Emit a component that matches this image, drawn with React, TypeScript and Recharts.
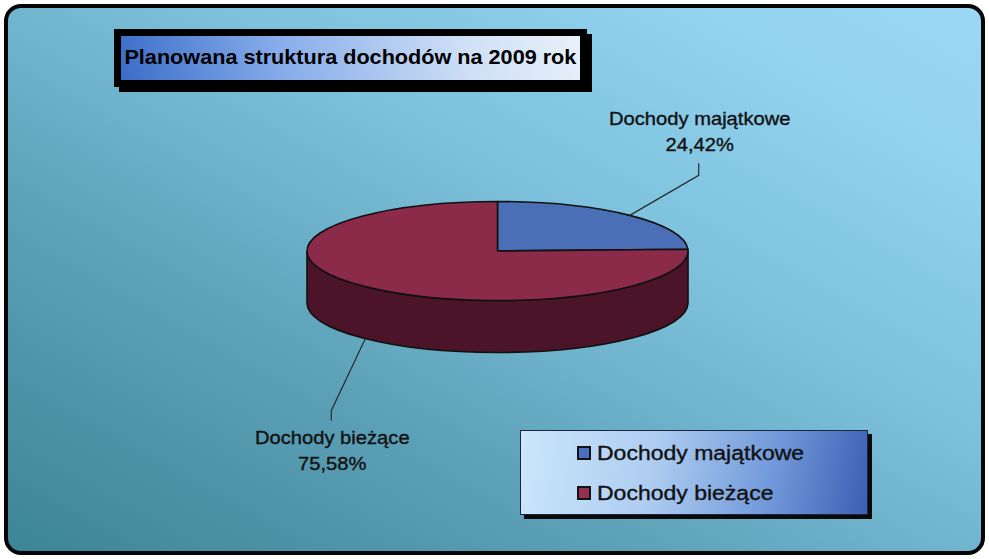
import { PieChart, Pie, Cell, Legend } from 'recharts';

const categories = ['Dochody majątkowe', 'Dochody bieżące'];
const shares = [24.42, 75.58];
const chartTitle = 'Planowana struktura dochodów na 2009 rok';

const TOP_COLORS = ['#4a6fb6', '#8c2a4a'];
const SIDE_COLORS = ['#263c6e', '#4c1428'];
const LEGEND_COLORS = ['#4a70c0', '#943050'];

const RX = 190.5;
const RY = 49.5;
const DEPTH = 52;
const RAD = Math.PI / 180;
const FONT = '"Liberation Sans", Arial, sans-serif';

const data = categories.map((name, i) => ({ name, value: shares[i] }));

const pt = (cx: number, cy: number, a: number, dy = 0) => [
  cx + RX * Math.cos(a * RAD),
  cy - RY * Math.sin(a * RAD) + dy,
];

function Slice3D(props: any) {
  const { cx, cy, startAngle, endAngle, index } = props;
  const hi = Math.max(startAngle, endAngle);
  const lo = Math.min(startAngle, endAngle);
  const [x1, y1] = pt(cx, cy, hi);
  const [x2, y2] = pt(cx, cy, lo);
  const large = hi - lo > 180 ? 1 : 0;
  const top = `M${cx},${cy} L${x1},${y1} A${RX},${RY} 0 ${large} 1 ${x2},${y2} Z`;

  // front half of the rim: angles in [k-180, k]
  const walls: string[] = [];
  for (const k of [360, 0, -360]) {
    const h = Math.min(hi, k);
    const l = Math.max(lo, k - 180);
    if (h - l > 0.01) {
      const [ax, ay] = pt(cx, cy, h);
      const [bx, by] = pt(cx, cy, l);
      walls.push(
        `M${ax},${ay} A${RX},${RY} 0 0 1 ${bx},${by} L${bx},${by + DEPTH} A${RX},${RY} 0 0 0 ${ax},${ay + DEPTH} Z`
      );
    }
  }

  return (
    <g>
      {walls.map((d, j) => (
        <path key={j} d={d} fill={SIDE_COLORS[index]} stroke="#111" strokeWidth={1.6} />
      ))}
      <path d={top} fill={TOP_COLORS[index]} stroke="#111" strokeWidth={1.6} strokeLinejoin="round" />
    </g>
  );
}

function renderLabel(props: any) {
  const { cx, cy, midAngle, name, value } = props;
  const upper = Math.sin(midAngle * RAD) >= 0;
  const [ax, ay] = pt(cx, cy, midAngle, upper ? 0 : DEPTH);
  const ex = ax + (upper ? 69 : -34);
  const ey = ay + (upper ? -40 : 72);
  const fy = ey + (upper ? -12 : 10);
  const line1 = upper ? fy - 38 : fy + 23;
  const line2 = line1 + 26;
  const pct = `${Number(value).toFixed(2).replace('.', ',')}%`;
  return (
    <g>
      <polyline
        points={`${ax},${ay} ${ex},${ey} ${ex},${fy}`}
        fill="none"
        stroke="#2a2a2a"
        strokeWidth={1.2}
      />
      <g
        transform={`translate(${ex + 1},0) scale(1.12,1)`}
        fontFamily={FONT}
        fontSize={18}
        fill="#111"
        stroke="#111"
        strokeWidth={0.35}
      >
        <text x={0} y={line1} textAnchor="middle">
          {name}
        </text>
        <text x={0} y={line2} textAnchor="middle">
          {pct}
        </text>
      </g>
    </g>
  );
}

function renderLegend(props: any) {
  const payload = [...(props.payload || [])].sort(
    (a: any, b: any) => categories.indexOf(a.value) - categories.indexOf(b.value)
  );
  return (
    <div
      style={{
        width: 348,
        height: 85,
        boxSizing: 'border-box',
        border: '1px solid #1c2440',
        background: 'linear-gradient(100deg, #cbe7fb 0%, #aecdf1 38%, #7199da 72%, #3c5fb3 100%)',
        boxShadow: '4px 4px 0 #0a0a0a',
        paddingTop: 2,
        paddingLeft: 56,
      }}
    >
      {payload.map((entry: any) => {
        const i = categories.indexOf(entry.value);
        return (
          <div key={entry.value} style={{ display: 'flex', alignItems: 'center', height: 40 }}>
            <span
              style={{
                width: 14,
                height: 14,
                boxSizing: 'border-box',
                border: '2px solid #111',
                background: LEGEND_COLORS[i],
                marginRight: 6,
                flex: 'none',
              }}
            />
            <span
              style={{
                fontFamily: FONT,
                fontSize: 20,
                color: '#111',
                WebkitTextStroke: '0.35px #111',
                display: 'inline-block',
                transform: 'scaleX(1.15)',
                transformOrigin: 'left center',
                whiteSpace: 'nowrap',
              }}
            >
              {entry.value}
            </span>
          </div>
        );
      })}
    </div>
  );
}

export default function App() {
  return (
    <div style={{ position: 'relative', width: 989, height: 559, background: '#fff', overflow: 'hidden' }}>
      <style>{'body{margin:0}'}</style>
      <div
        style={{
          position: 'absolute',
          left: 4,
          top: 4,
          width: 981,
          height: 551,
          boxSizing: 'border-box',
          border: '4px solid #050505',
          borderRadius: 17,
          background:
            'linear-gradient(to top right, #3c8595 0%, #5b9fb6 30%, #7cc0db 60%, #92d3f0 85%, #9ad8f5 100%)',
        }}
      />
      <div
        style={{
          position: 'absolute',
          left: 114,
          top: 29,
          width: 473,
          height: 58,
          boxSizing: 'border-box',
          border: '7px solid #000',
          boxShadow: '5px 5px 0 #000',
          background: 'linear-gradient(75deg, #3a6cc8 0%, #86acea 35%, #cfe0f6 75%, #e8f0fa 100%)',
          display: 'flex',
          alignItems: 'center',
          justifyContent: 'center',
        }}
      >
        <span
          style={{
            fontFamily: FONT,
            fontWeight: 'bold',
            fontSize: 21,
            color: '#000',
            display: 'inline-block',
            transform: 'scaleX(1.03)',
            whiteSpace: 'nowrap',
            marginTop: -2,
          }}
        >
          {chartTitle}
        </span>
      </div>
      <div style={{ position: 'absolute', left: 0, top: 0 }}>
        <PieChart width={989} height={559} margin={{ top: 0, right: 0, bottom: 0, left: 0 }}>
          <Pie
            data={data}
            dataKey="value"
            nameKey="name"
            cx={497.5}
            cy={251}
            outerRadius={RX}
            startAngle={90}
            endAngle={-270}
            isAnimationActive={false}
            shape={Slice3D}
            activeShape={Slice3D}
            inactiveShape={Slice3D}
            label={renderLabel}
            labelLine={false}
          >
            {data.map((_, i) => (
              <Cell key={i} fill={TOP_COLORS[i]} />
            ))}
          </Pie>
          <Legend
            layout="vertical"
            align="right"
            verticalAlign="bottom"
            content={renderLegend}
            wrapperStyle={{ left: 520, top: 430, right: 'auto', bottom: 'auto', width: 348, height: 85 }}
          />
        </PieChart>
      </div>
    </div>
  );
}
